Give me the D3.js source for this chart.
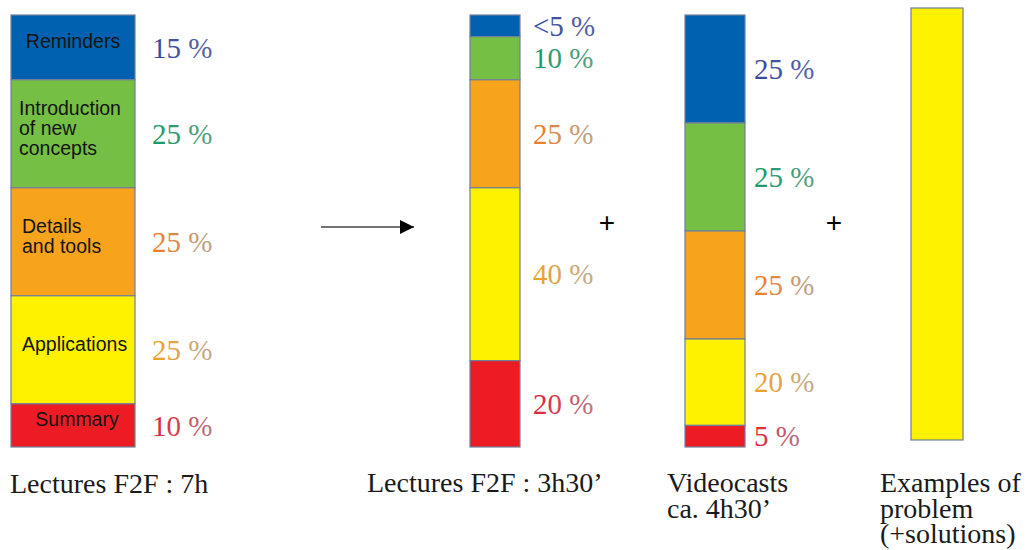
<!DOCTYPE html>
<html>
<head>
<meta charset="utf-8">
<script src="https://cdn.jsdelivr.net/npm/d3@7"></script>
<style>
  html, body { margin: 0; padding: 0; background: #fff; }
  svg { display: block; }
</style>
</head>
<body>
<svg id="chart" width="1030" height="550"></svg>
<script>
// Share of each part of the course, top to bottom of every stacked column
const parts = ["Reminders", "Introduction of new concepts", "Details and tools", "Applications", "Summary"];
const partLines = [["Reminders"], ["Introduction", "of new", "concepts"], ["Details", "and tools"], ["Applications"], ["Summary"]];

const lecturesFull   = [15, 25, 25, 25, 10];   // Lectures F2F : 7h
const lecturesShort  = [5, 10, 25, 40, 20];    // Lectures F2F : 3h30'
const videocasts     = [25, 25, 25, 20, 5];    // Videocasts ca. 4h30'
const examples       = [0, 0, 0, 100, 0];      // Examples of problem (+solutions)

const lecturesFullLabels  = ["15 %", "25 %", "25 %", "25 %", "10 %"];
const lecturesShortLabels = ["<5 %", "10 %", "25 %", "40 %", "20 %"];
const videocastsLabels    = ["25 %", "25 %", "25 %", "20 %", "5 %"];

const captions = [
  ["Lectures F2F : 7h"],
  ["Lectures F2F : 3h30\u2019"],
  ["Videocasts", "ca. 4h30\u2019"],
  ["Examples of", "problem", "(+solutions)"]
];

// ---- layout ----
const svg = d3.select("#chart");
const y = d3.scaleLinear().domain([0, 100]).range([15, 447]);

const fills = ["#0061b1", "#74bf44", "#f7a31c", "#fff200", "#ed1c24"];
const textColors = [
  ["#33489c", "#5a66a0"],
  ["#139a64", "#5f9f86"],
  ["#f27b1f", "#b9a593"],
  ["#f3a01d", "#bfab97"],
  ["#e3202f", "#b5788a"]
];

const columns = [
  { values: lecturesFull,  labels: lecturesFullLabels,  x: 11,  w: 124, labelX: 152, inner: true,  dy: 0 },
  { values: lecturesShort, labels: lecturesShortLabels, x: 470, w: 50,  labelX: 533, inner: false, dy: 0 },
  { values: videocasts,    labels: videocastsLabels,    x: 685, w: 60,  labelX: 754, inner: false, dy: 0 },
  { values: examples,      labels: null,                x: 911, w: 52,  labelX: 0,   inner: false, dy: -7 }
];

// gradients for the percentage labels
const defs = svg.append("defs");
textColors.forEach((c, i) => {
  const g = defs.append("linearGradient").attr("id", "pct" + i)
    .attr("x1", "0%").attr("x2", "100%").attr("y1", "0%").attr("y2", "0%");
  g.append("stop").attr("offset", "0%").attr("stop-color", c[0]);
  g.append("stop").attr("offset", "100%").attr("stop-color", c[1]);
});

const stackOf = vals => {
  let acc = 0;
  return vals.map((v, i) => { const s = { i, v, y0: acc, y1: acc + v }; acc += v; return s; });
};

columns.forEach(col => {
  const g = svg.append("g").attr("transform", `translate(0,${col.dy})`);
  const segs = stackOf(col.values).filter(s => s.v > 0);

  g.selectAll("rect.seg").data(segs).join("rect")
    .attr("class", "seg")
    .attr("x", col.x)
    .attr("y", d => y(d.y0))
    .attr("width", col.w)
    .attr("height", d => y(d.y1) - y(d.y0))
    .attr("fill", d => fills[d.i])
    .attr("stroke", "#6f7f9c")
    .attr("stroke-width", 1.2);

  if (col.labels) {
    g.selectAll("text.pct").data(segs).join("text")
      .attr("class", "pct")
      .attr("x", col.labelX)
      .attr("y", d => (y(d.y0) + y(d.y1)) / 2)
      .attr("dy", "0.35em")
      .attr("font-family", "'Liberation Serif', 'Times New Roman', serif")
      .attr("font-size", 29)
      .attr("fill", d => `url(#pct${d.i})`)
      .text(d => col.labels[d.i]);
  }

  if (col.inner) {
    segs.forEach(d => {
      const lines = partLines[d.i];
      const centred = lines.length === 1 && (d.i === 0 || d.i === 4);
      const mid = (y(d.y0) + y(d.y1)) / 2 - 6;
      const lh = 20;
      const t = g.append("text")
        .attr("font-family", "'Liberation Sans', Arial, sans-serif")
        .attr("font-size", 19.5)
        .attr("fill", "#141414")
        .attr("text-anchor", centred ? "middle" : "start");
      lines.forEach((ln, k) => {
        t.append("tspan")
          .attr("x", centred ? col.x + col.w / 2 + (d.i === 4 ? 4 : 0) : col.x + (d.i === 1 ? 8 : 11))
          .attr("y", mid + (k - (lines.length - 1) / 2) * lh)
          .attr("dy", "0.35em")
          .text(ln);
      });
    });
  }
});

// arrow between the original lecture and the new format
svg.append("defs").append("marker")
  .attr("id", "head").attr("viewBox", "0 0 10 10")
  .attr("refX", 10).attr("refY", 5)
  .attr("markerWidth", 20).attr("markerHeight", 14)
  .attr("markerUnits", "userSpaceOnUse")
  .attr("orient", "auto")
  .append("path").attr("d", "M0,0 L10,5 L0,10 Z").attr("fill", "#000");

svg.append("line")
  .attr("x1", 321).attr("y1", 227).attr("x2", 414).attr("y2", 227)
  .attr("stroke", "#444").attr("stroke-width", 1.5)
  .attr("marker-end", "url(#head)");

// plus signs
[607, 834].forEach(px => {
  svg.append("text")
    .attr("x", px).attr("y", 222).attr("dy", "0.35em")
    .attr("text-anchor", "middle")
    .attr("font-family", "'Liberation Sans', Arial, sans-serif")
    .attr("font-size", 28)
    .attr("fill", "#000")
    .text("+");
});

// captions under the columns
const captionX = [10, 367, 667, 880];
const captionY = [493, 492, 492, 492];
captions.forEach((lines, i) => {
  const t = svg.append("text")
    .attr("font-family", "'Liberation Serif', 'Times New Roman', serif")
    .attr("font-size", 28)
    .attr("fill", "#1a1a1a");
  lines.forEach((ln, k) => {
    t.append("tspan").attr("x", captionX[i]).attr("y", captionY[i] + k * 25.5).text(ln);
  });
});
</script>
</body>
</html>
